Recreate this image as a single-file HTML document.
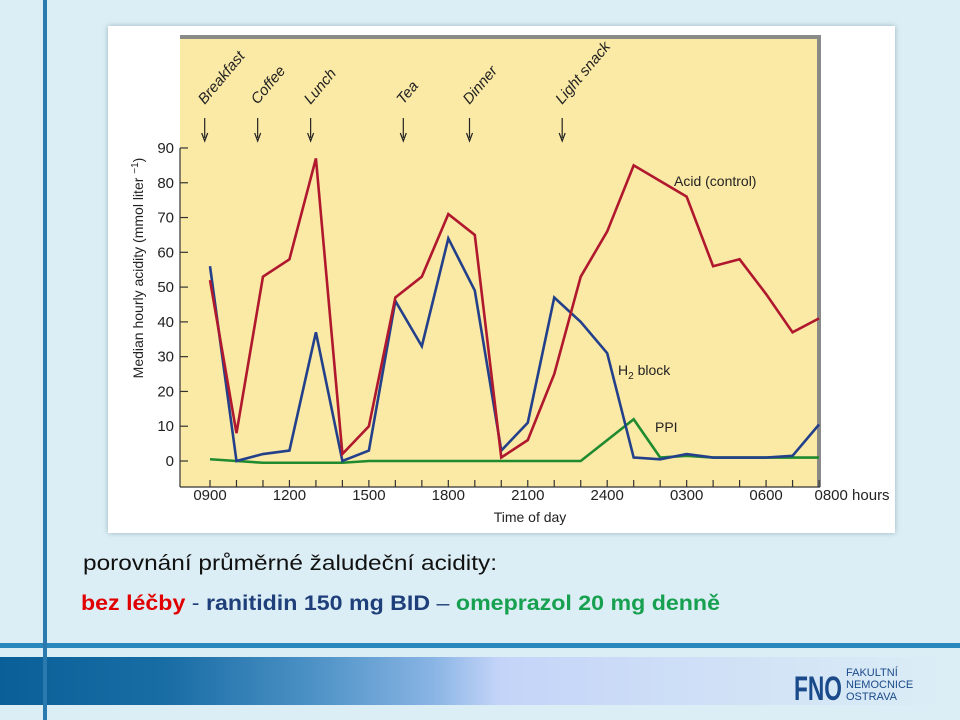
<!DOCTYPE html>
<html><head><meta charset="utf-8"><style>
html,body{margin:0;padding:0;width:960px;height:720px;overflow:hidden;background:#dceef5}
svg{display:block;font-family:"Liberation Sans",sans-serif}
</style></head><body>
<svg width="960" height="720" viewBox="0 0 960 720">
<defs>
<linearGradient id="band" x1="0" x2="1" y1="0" y2="0">
<stop offset="0" stop-color="#0b5f98"/><stop offset="0.18" stop-color="#1a6ea6"/><stop offset="0.32" stop-color="#4a90c4"/><stop offset="0.45" stop-color="#88b4e4"/><stop offset="0.52" stop-color="#c4d4f8"/><stop offset="1" stop-color="#dceef5"/>
</linearGradient>
<filter id="sh" x="-5%" y="-5%" width="110%" height="110%"><feDropShadow dx="0" dy="0" stdDeviation="3" flood-color="#7a9aa8" flood-opacity="0.7"/></filter>
</defs>
<rect x="0" y="657" width="960" height="48" fill="url(#band)"/>
<rect x="0" y="643" width="960" height="5" fill="#2a88bc"/>
<rect x="43" y="0" width="4" height="720" fill="#2a7ab0"/>
<g>
<text x="794" y="700" font-size="34" font-weight="bold" fill="#1a4a8a" textLength="48" lengthAdjust="spacingAndGlyphs">FNO</text>
<text x="846" y="676" font-size="11" fill="#1a4a8a">FAKULTNÍ</text>
<text x="846" y="688" font-size="11" fill="#1a4a8a">NEMOCNICE</text>
<text x="846" y="700" font-size="11" fill="#1a4a8a">OSTRAVA</text>
</g>
<rect x="108" y="26" width="787" height="507" fill="#fff" filter="url(#sh)"/>
<rect x="180" y="35" width="640" height="452" fill="#fbe9a6"/>
<rect x="180" y="35" width="640" height="4" fill="#8a8a88"/>
<rect x="817" y="35" width="4" height="452" fill="#8a8a88"/>
<line x1="180" y1="487" x2="820" y2="487" stroke="#333" stroke-width="1.2"/>
<line x1="180" y1="148" x2="180" y2="487" stroke="#333" stroke-width="1.2"/>
<g id="yaxis"></g>
<g id="xaxis"></g>
<text transform="translate(143,268) rotate(-90)" text-anchor="middle" font-size="14" fill="#222">Median hourly acidity (mmol liter <tspan font-size="10" dy="-5">−1</tspan><tspan dy="5">)</tspan></text>
<text x="530" y="522" text-anchor="middle" font-size="14" fill="#222">Time of day</text>
<g id="meals"></g>
<g id="series"></g>
<text x="674" y="186" font-size="14" fill="#222">Acid (control)</text>
<text x="618" y="375" font-size="14" fill="#222">H<tspan font-size="10" dy="4">2</tspan><tspan dy="-4"> block</tspan></text>
<text x="655" y="432" font-size="14" fill="#222">PPI</text>
<text x="83" y="570" font-size="21" fill="#111" textLength="414" lengthAdjust="spacingAndGlyphs">porovnání průměrné žaludeční acidity:</text>
<text x="81" y="610" font-size="21" font-weight="bold" textLength="639" lengthAdjust="spacingAndGlyphs"><tspan fill="#e00000">bez léčby</tspan><tspan fill="#1f3f7a" font-weight="normal"> - </tspan><tspan fill="#1f3f7a">ranitidin 150 mg BID</tspan><tspan fill="#1f3f7a" font-weight="normal"> – </tspan><tspan fill="#16a050">omeprazol 20 mg denně</tspan></text>
</svg>
<script>
const hours=["0900","1000","1100","1200","1300","1400","1500","1600","1700","1800","1900","2000","2100","2200","2300","2400","0100","0200","0300","0400","0500","0600","0700","0800"];
const acid=[52,8,53,58,87,2,10,47,53,71,65,1,6,25,53,66,85,80.5,76,56,58,48,37,41];
const h2=[56,0,2,3,37,0,3,46,33,64,49,3,11,47,40,31,1,0.5,2,1,1,1,1.5,10.5];
const ppi=[0.5,0,-0.5,-0.5,-0.5,-0.5,0,0,0,0,0,0,0,0,0,6,12,1,1.5,1,1,1,1,1];
const yTicks=[0,10,20,30,40,50,60,70,80,90];
const xLabels=["0900","1200","1500","1800","2100","2400","0300","0600","0800 hours"];
const xLabelIdx=[0,3,6,9,12,15,18,21,23];
const meals=["Breakfast","Coffee","Lunch","Tea","Dinner","Light snack"];
const mealIdx=[-0.2,1.8,3.8,7.3,9.8,13.3];
const NS="http://www.w3.org/2000/svg";
const X=i=>210+i*26.48, Y=v=>461-v*3.478;
function mk(t,a,p){const e=document.createElementNS(NS,t);for(const k in a)e.setAttribute(k,a[k]);p.appendChild(e);return e;}
const ya=document.getElementById('yaxis');
yTicks.forEach(v=>{mk('line',{x1:180,x2:188,y1:Y(v),y2:Y(v),stroke:'#333','stroke-width':1.2},ya);
const t=mk('text',{x:174,y:Y(v)+5,'text-anchor':'end','font-size':15,fill:'#222'},ya);t.textContent=v;

});
const xa=document.getElementById('xaxis');
hours.forEach((h,i)=>mk('line',{x1:X(i),x2:X(i),y1:480,y2:487,stroke:'#333','stroke-width':1.2},xa));
xLabels.forEach((l,k)=>{const t=mk('text',{x:X(xLabelIdx[k])+(k==8?33:0),y:500,'text-anchor':'middle','font-size':15,fill:'#222'},xa);t.textContent=l;

});
const mg=document.getElementById('meals');
meals.forEach((m,k)=>{const x=X(mealIdx[k]);
mk('line',{x1:x,x2:x,y1:118,y2:138,stroke:'#222','stroke-width':1.2},mg);
mk('path',{d:`M${x-3},133 L${x},141 L${x+3},133`,fill:'none',stroke:'#222','stroke-width':1.2},mg);
const t=mk('text',{transform:`translate(${x},105) rotate(-50)`,'font-size':15,'font-style':'italic',fill:'#222'},mg);t.textContent=m;

});
const sg=document.getElementById('series');
[[ppi,'#1f8a2e','ppi-line'],[h2,'#23408a','h2-block-line'],[acid,'#b0182e','acid-control-line']].forEach(([d,c,n])=>{
const p=mk('polyline',{points:d.map((v,i)=>X(i)+','+Y(v)).join(' '),fill:'none',stroke:c,'stroke-width':2.6,'stroke-linejoin':'miter'},sg);

});
</script>
</body></html>
